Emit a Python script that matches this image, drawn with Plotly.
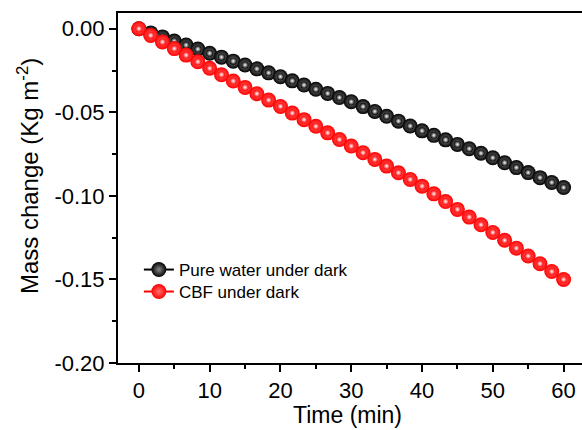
import plotly.graph_objects as go

time_min = [0.0, 1.67, 3.33, 5.0, 6.67, 8.33, 10.0, 11.67, 13.33, 15.0, 16.67, 18.33,
            20.0, 21.67, 23.33, 25.0, 26.67, 28.33, 30.0, 31.67, 33.33, 35.0, 36.67, 38.33,
            40.0, 41.67, 43.33, 45.0, 46.67, 48.33, 50.0, 51.67, 53.33, 55.0, 56.67, 58.33, 60.0]

pure_water_dark = [0.0, -0.0025, -0.0049, -0.0074, -0.0098, -0.0122, -0.0147, -0.0170, -0.0194,
                   -0.0217, -0.0240, -0.0264, -0.0287, -0.0312, -0.0337, -0.0362, -0.0387, -0.0412,
                   -0.0437, -0.0466, -0.0495, -0.0524, -0.0553, -0.0582, -0.0611, -0.0638, -0.0665,
                   -0.0692, -0.0718, -0.0745, -0.0772, -0.0802, -0.0831, -0.0861, -0.0891, -0.0920,
                   -0.0950]

cbf_dark = [0.0, -0.0040, -0.0079, -0.0119, -0.0158, -0.0198, -0.0237, -0.0275, -0.0313,
            -0.0351, -0.0389, -0.0427, -0.0465, -0.0505, -0.0544, -0.0584, -0.0623, -0.0663,
            -0.0702, -0.0742, -0.0782, -0.0822, -0.0862, -0.0902, -0.0942, -0.0988, -0.1034,
            -0.1081, -0.1127, -0.1173, -0.1219, -0.1266, -0.1313, -0.1360, -0.1406, -0.1453,
            -0.1500]

series_names = ["Pure water under dark", "CBF under dark"]
x_ticks = [0, 10, 20, 30, 40, 50, 60]
y_ticks = [0.0, -0.05, -0.10, -0.15, -0.20]
y_tick_labels = ["0.00", "-0.05", "-0.10", "-0.15", "-0.20"]
x_title = "Time (min)"
y_title = "Mass change (Kg m<sup>-2</sup>)"

FAM = "Liberation Sans, Arial, sans-serif"

fig = go.Figure()

series = [(pure_water_dark, "#000000", "#8a8a8a", "legend"),
          (cbf_dark, "#ff0000", "#ff7070", "legend2")]
for (vals, col, mid, leg), name in zip(series, series_names):
    fig.add_trace(go.Scatter(
        x=time_min, y=vals, mode="lines+markers", name=name, legend=leg,
        line=dict(color=col, width=2),
        marker=dict(symbol="circle", size=15, color=col, line=dict(width=0),
                    gradient=dict(type="radial", color=mid)),
    ))
    fig.add_trace(go.Scatter(
        x=time_min, y=vals, mode="markers", showlegend=False, hoverinfo="skip",
        marker=dict(symbol="circle", size=7, color=col, line=dict(width=0),
                    gradient=dict(type="radial", color="#ffffff")),
    ))

tick_font = dict(family=FAM, size=22, color="#000000")
leg_common = dict(xanchor="left", yanchor="middle", bgcolor="rgba(0,0,0,0)", borderwidth=0,
                  font=dict(family=FAM, size=17, color="#000000"), itemwidth=30)

fig.update_layout(
    width=582, height=430,
    margin=dict(l=118, r=0, t=13, b=67),
    paper_bgcolor="white", plot_bgcolor="white",
    font=dict(family=FAM, color="#000000"),
    showlegend=True,
    legend=dict(x=0.045, y=0.2657, **leg_common),
    legend2=dict(x=0.045, y=0.2029, **leg_common),
    annotations=[
        dict(text=x_title, xref="paper", yref="paper", x=0.495, y=-0.148,
             xanchor="center", yanchor="middle", showarrow=False,
             font=dict(family=FAM, size=23, color="#000000")),
        dict(text=y_title, xref="paper", yref="paper", x=-0.194, y=0.534,
             xanchor="center", yanchor="middle", showarrow=False, textangle=-90,
             font=dict(family=FAM, size=24, color="#000000")),
    ],
)

fig.update_xaxes(
    range=[-2.95, 62.6], tickvals=x_ticks, ticktext=[str(v) for v in x_ticks],
    showline=True, linecolor="black", linewidth=2, mirror=True,
    ticks="outside", ticklen=7, tickwidth=2, tickcolor="black",
    minor=dict(ticks="outside", ticklen=4, tickwidth=2, tickcolor="black", dtick=5, tick0=5),
    showgrid=False, zeroline=False, automargin=False,
    tickfont=tick_font,
)

fig.update_yaxes(
    range=[-0.2, 0.0094], tickvals=y_ticks, ticktext=y_tick_labels,
    showline=True, linecolor="black", linewidth=2, mirror=False,
    ticks="outside", ticklen=7, tickwidth=2, tickcolor="black",
    minor=dict(ticks="outside", ticklen=4, tickwidth=2, tickcolor="black", dtick=0.025, tick0=-0.025),
    showgrid=False, zeroline=False, automargin=False,
    tickfont=tick_font,
)

fig.write_html("out.html", config={"displayModeBar": False},
               post_script="document.body.style.margin='0';document.body.style.padding='0';")
